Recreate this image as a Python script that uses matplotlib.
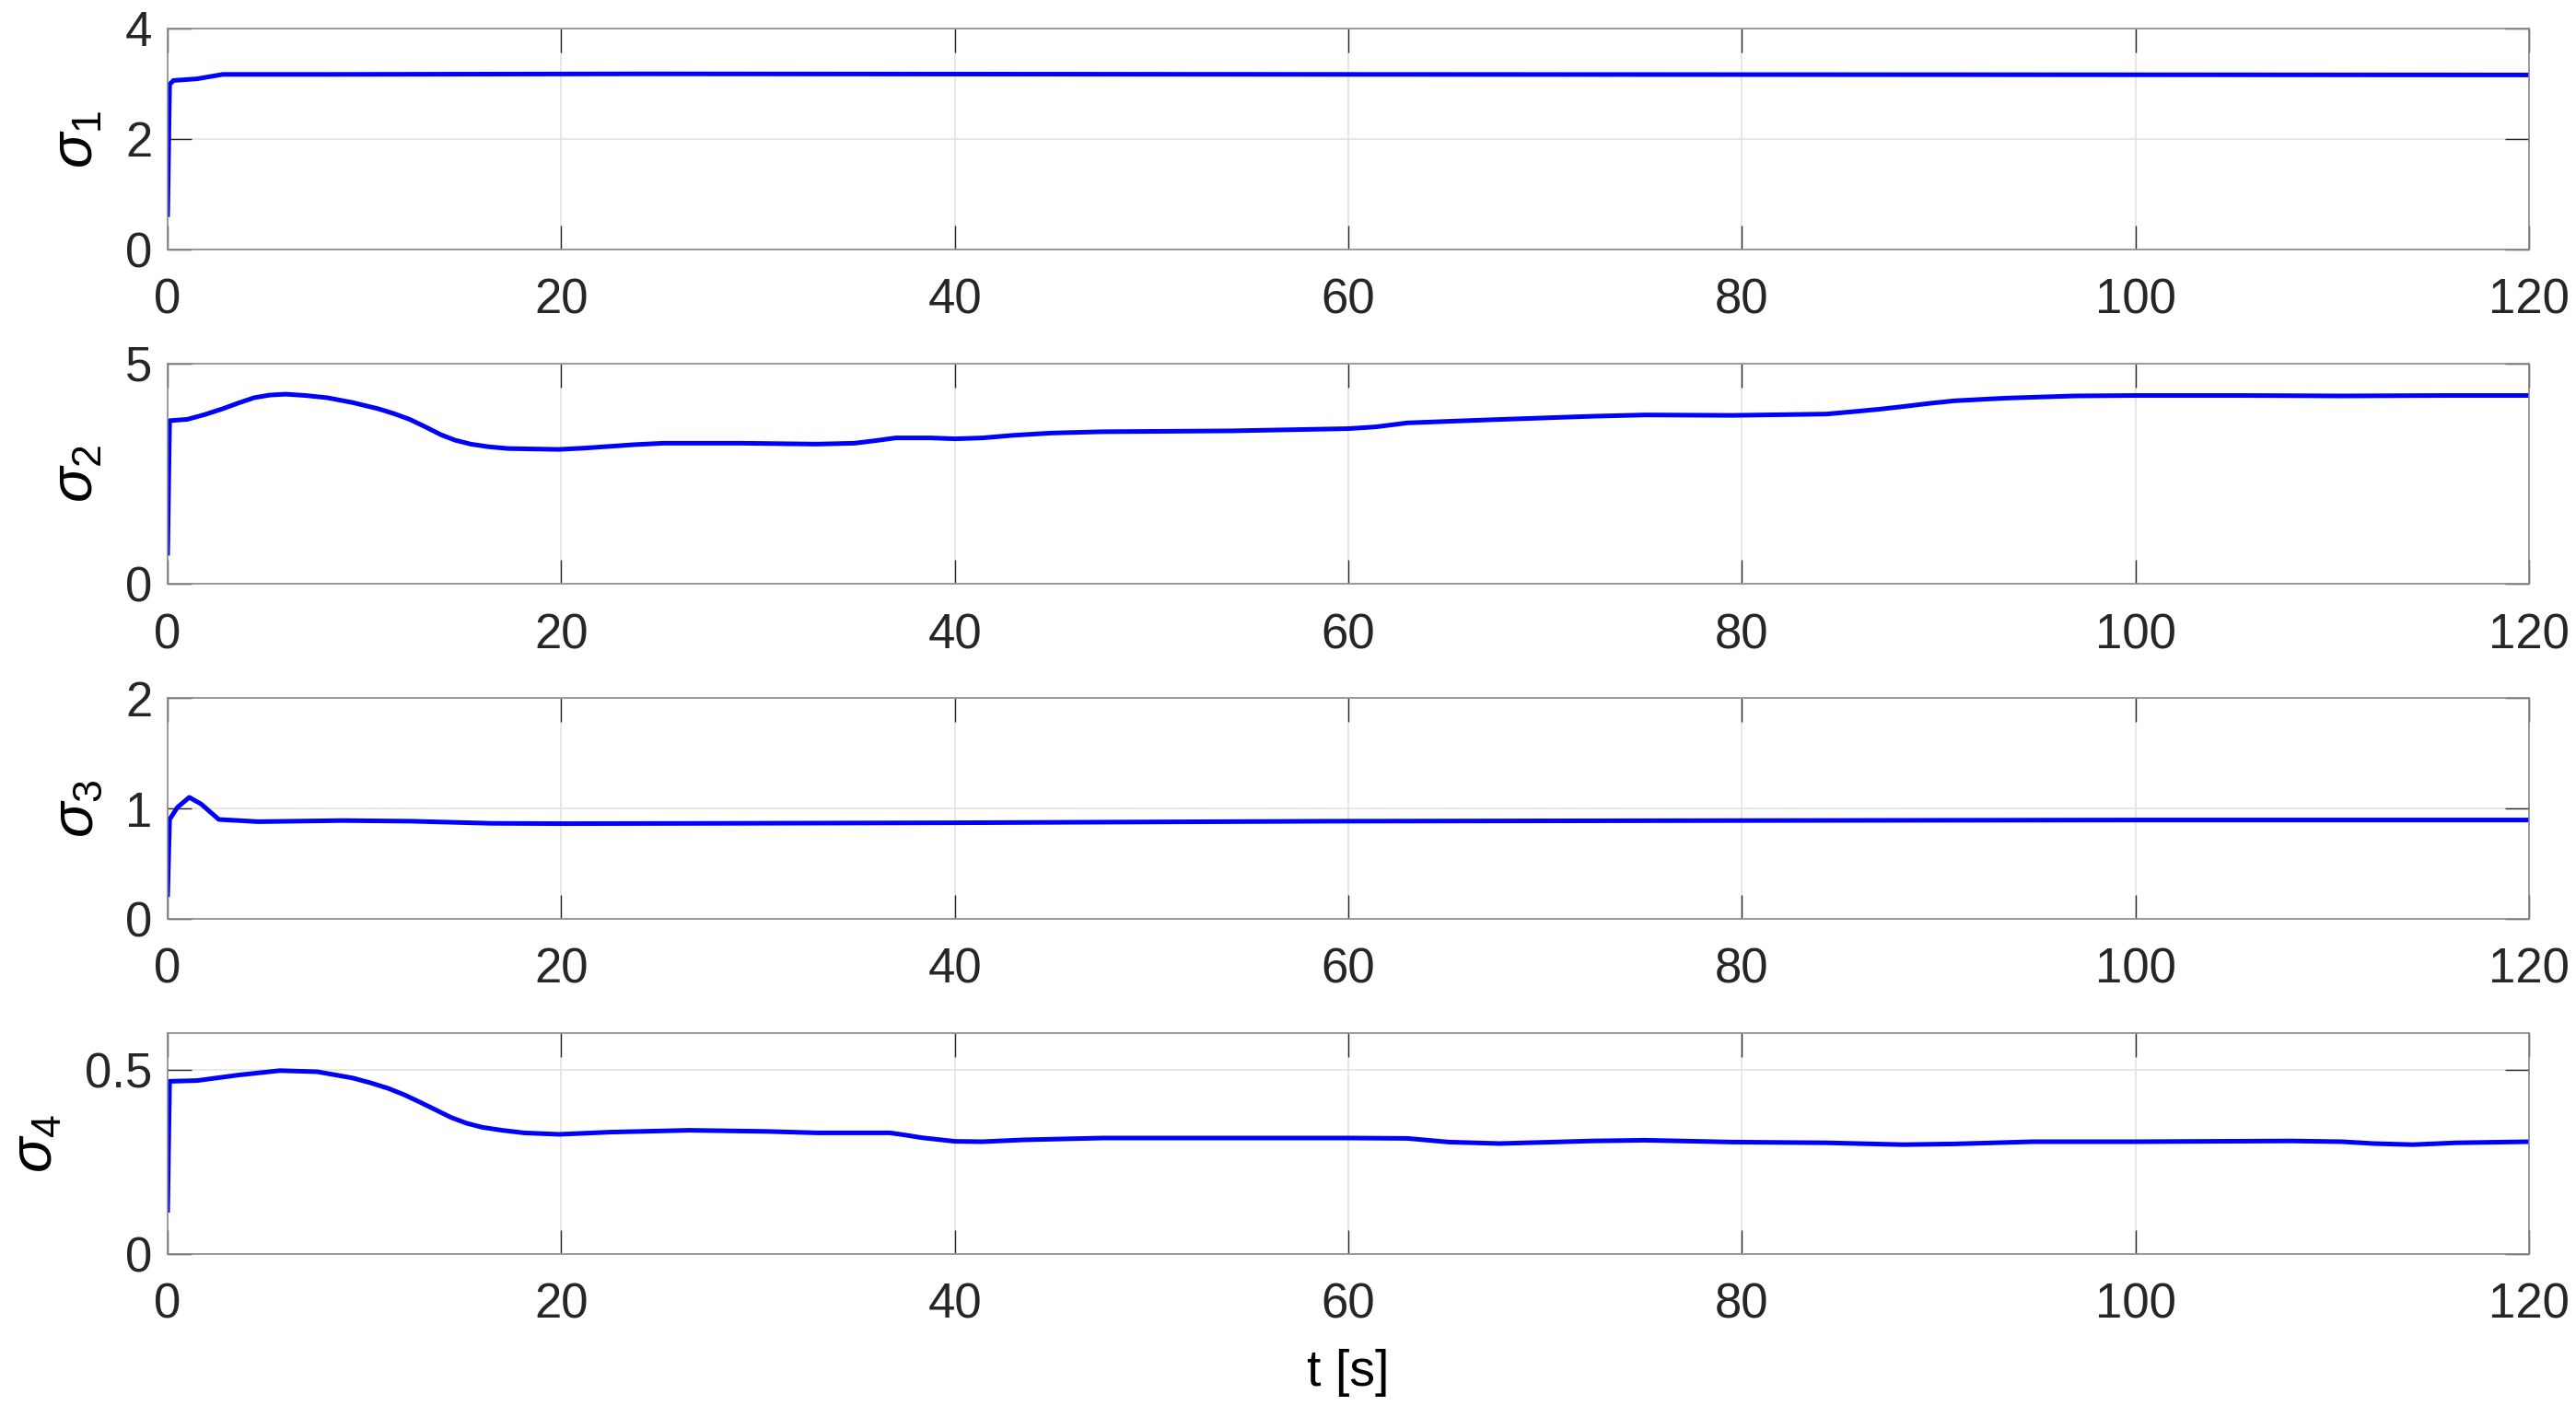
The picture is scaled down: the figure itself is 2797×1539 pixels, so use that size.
import matplotlib
matplotlib.use("Agg")
import matplotlib.pyplot as plt

plt.rcParams['font.family'] = ['Liberation Sans', 'DejaVu Sans']
plt.rcParams['mathtext.fontset'] = 'custom'
plt.rcParams['mathtext.rm'] = 'Liberation Sans'
plt.rcParams['mathtext.it'] = 'Liberation Sans:italic'

# ---- data ----
t1 = [0, 0.1, 0.3, 1.5, 2.8, 8.2, 24.3, 60, 120]
s1 = [0.63, 2.99, 3.06, 3.09, 3.17, 3.17, 3.18, 3.17, 3.16]

t2 = [0, 0.1, 1.0, 1.9, 2.8, 3.6, 4.4, 5.2, 6.0, 7.0, 8.1, 9.4, 10.7, 11.5,
      12.3, 13.1, 13.9, 14.6, 15.4, 16.3, 17.3, 18.5, 19.9, 21.2, 22.5, 23.8,
      25.2, 29.1, 33.0, 34.9, 36.0, 37.0, 38.8, 40.0, 41.4, 43.0, 44.9, 47.5,
      54.1, 60.0, 61.4, 63.0, 67.2, 72.4, 75.1, 79.5, 84.3, 85.8, 87.0, 88.2,
      89.5, 90.8, 93.4, 96.9, 100, 105.3, 110.5, 115.8, 120]
s2 = [0.70, 3.70, 3.73, 3.84, 3.97, 4.10, 4.22, 4.28, 4.30, 4.27, 4.22, 4.11,
      3.97, 3.86, 3.73, 3.56, 3.38, 3.26, 3.17, 3.11, 3.07, 3.06, 3.05, 3.08,
      3.12, 3.16, 3.19, 3.19, 3.17, 3.19, 3.25, 3.31, 3.31, 3.29, 3.31, 3.37,
      3.42, 3.45, 3.47, 3.52, 3.56, 3.65, 3.72, 3.80, 3.83, 3.82, 3.85, 3.91,
      3.96, 4.02, 4.09, 4.15, 4.21, 4.26, 4.27, 4.27, 4.26, 4.27, 4.27]

t3 = [0, 0.1, 0.5, 1.1, 1.7, 2.6, 4.6, 8.9, 12.4, 16.4, 20, 28.9, 40, 58.9,
      80, 100, 120]
s3 = [0.22, 0.90, 1.01, 1.10, 1.04, 0.90, 0.88, 0.89, 0.884, 0.865, 0.862,
      0.865, 0.870, 0.884, 0.89, 0.895, 0.895]

t4 = [0, 0.1, 1.5, 3.6, 5.7, 7.6, 9.4, 10.3, 11.2, 12.0, 12.8, 13.6, 14.4, 15.2,
      16.0, 17.0, 18.1, 19.9, 22.5, 26.5, 30.4, 33.0, 36.7, 37.5, 38.3, 40.0,
      41.4, 43.5, 47.5, 54.1, 60.0, 63.0, 65.1, 67.7, 72.4, 75.1, 79.5, 84.3,
      88.2, 90.8, 94.8, 100, 107.9, 110.5, 112.1, 114.1, 116.3, 120]
s4 = [0.119, 0.469, 0.471, 0.486, 0.498, 0.495, 0.478, 0.465, 0.450, 0.433,
      0.413, 0.392, 0.371, 0.355, 0.344, 0.336, 0.329, 0.325, 0.331, 0.336,
      0.333, 0.329, 0.329, 0.323, 0.316, 0.306, 0.305, 0.310, 0.315, 0.315,
      0.315, 0.314, 0.304, 0.300, 0.307, 0.309, 0.304, 0.302, 0.297, 0.299,
      0.305, 0.305, 0.307, 0.305, 0.300, 0.297, 0.302, 0.305]

series = [(t1, s1), (t2, s2), (t3, s3), (t4, s4)]
ylabels = [r'$\sigma_1$', r'$\sigma_2$', r'$\sigma_3$', r'$\sigma_4$']
ylims = [(0, 4), (0, 5), (0, 2), (0, 0.6)]
yticks = [[0, 2, 4], [0, 5], [0, 1, 2], [0, 0.5]]
yticklabels = [['0', '2', '4'], ['0', '5'], ['0', '1', '2'], ['0', '0.5']]
xticks = [0, 20, 40, 60, 80, 100, 120]

W, H = 2797, 1539
dpi = 200
fig = plt.figure(figsize=(W / dpi, H / dpi), dpi=dpi)

left = 182 / W
width = (2746 - 182) / W
ah = 240 / H
bottoms = [(H - 271) / H, (H - 634.5) / H, (H - 998) / H, (H - 1362) / H]

fs = 19
for i, ((t, s), yl, lim, yt, ytl) in enumerate(zip(series, ylabels, ylims, yticks, yticklabels)):
    ax = fig.add_axes([left, bottoms[i], width, ah])
    ax.plot(t, s, color=(0, 0, 1), lw=1.8, solid_joinstyle='round')
    ax.set_xlim(0, 120)
    ax.set_ylim(*lim)
    ax.set_xticks(xticks)
    ax.set_xticklabels([str(x) for x in xticks])
    ax.set_yticks(yt)
    ax.set_yticklabels(ytl)
    ax.grid(True, color='#e3e3e3', lw=0.6)
    ax.set_axisbelow(True)
    ax.tick_params(direction='in', length=9.5, width=0.5, colors='#262626',
                   labelsize=fs, top=True, right=True)
    ax.tick_params(axis='x', pad=11)
    ax.tick_params(axis='y', pad=6)
    for sp in ax.spines.values():
        sp.set_color('#8a8a8a')
        sp.set_linewidth(0.6)
    ax.set_ylabel(yl, fontsize=23, labelpad=8)
    if i == 3:
        ax.set_xlabel('t [s]', fontsize=fs + 1, labelpad=8)

fig.savefig('out.png', dpi=dpi, facecolor='white')
